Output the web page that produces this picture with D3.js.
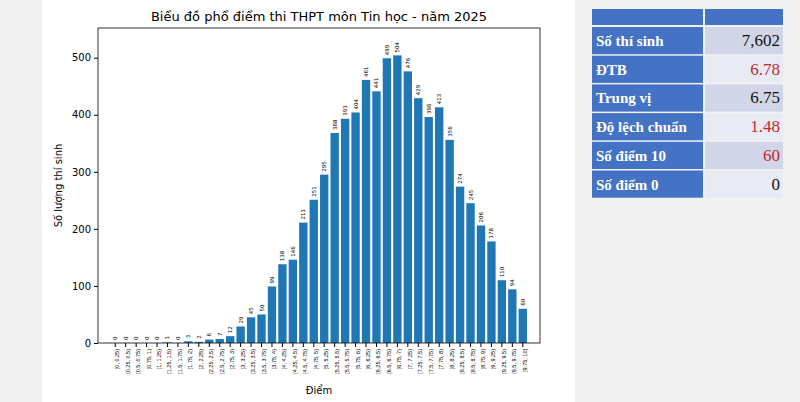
<!DOCTYPE html>
<html><head><meta charset="utf-8">
<script src="https://cdn.jsdelivr.net/npm/d3@7"></script>
<style>body{margin:0;background:#f1f1f1;}svg{display:block;}</style>
</head><body>
<svg id="c" width="800" height="402"></svg>
<script>
// score bins and counts
var bins = [];
for (var i = 0; i < 40; i++) {
  var a = i * 0.25, b = a + 0.25;
  bins.push("[" + a + ", " + b + (i == 39 ? "]" : ")"));
}
var counts = [0,0,0,0,0,1,0,3,2,6,7,12,29,45,50,99,138,146,211,251,295,368,393,404,461,441,499,504,476,429,396,413,356,274,245,206,178,110,94,60];
var yTicks = [0,100,200,300,400,500];
var statLabels = ["Số thí sinh","ĐTB","Trung vị","Độ lệch chuẩn","Số điểm 10","Số điểm 0"];
var statValues = ["7,602","6.78","6.75","1.48","60","0"];
var statRed = [false,true,false,true,true,false];

var svg = d3.select("#c");
svg.append("rect").attr("x",42).attr("y",0).attr("width",533).attr("height",402).attr("fill","#fff");

var pL = 98, pR = 540, pT = 28, pB = 343;
var x = d3.scaleBand().domain(bins).range([pL + 12, pR - 12]).paddingInner(0.2).paddingOuter(0.1);
var y = d3.scaleLinear().domain([0, 552]).range([pB, pT]);

svg.append("text").attr("x",(pL+pR)/2).attr("y",21).attr("text-anchor","middle")
  .attr("font-family","DejaVu Sans").attr("font-size",13).text("Biểu đồ phổ điểm thi THPT môn Tin học - năm 2025");

svg.selectAll(".bar").data(counts).enter().append("rect")
  .attr("x",function(d,i){return x(bins[i]);}).attr("width",x.bandwidth())
  .attr("y",function(d){return y(d);}).attr("height",function(d){return pB - y(d);})
  .attr("fill","#1f77b4");

svg.selectAll(".lbl").data(counts).enter().append("text")
  .attr("transform",function(d,i){return "translate(" + (x(bins[i]) + x.bandwidth()/2 + 2) + "," + (y(d) - 3) + ") rotate(-90)";})
  .attr("font-family","DejaVu Sans").attr("font-size",5.5).text(function(d){return d;});

var yAxis = svg.append("g").attr("transform","translate(" + pL + ",0)").call(d3.axisLeft(y).tickValues(yTicks).tickSize(4));
var xAxis = svg.append("g").attr("transform","translate(0," + pB + ")").call(d3.axisBottom(x).tickSize(4));
xAxis.selectAll("text").attr("font-size",5.5).attr("text-anchor","end")
  .attr("transform","rotate(-90)").attr("dx","-6").attr("dy","-3");
yAxis.selectAll("text").attr("font-size",10).attr("font-family","DejaVu Sans");
svg.selectAll(".domain").remove();
svg.append("rect").attr("x",pL).attr("y",pT).attr("width",pR-pL).attr("height",pB-pT)
  .attr("fill","none").attr("stroke","#000").attr("stroke-width",0.8);

svg.append("text").attr("x",(pL+pR)/2).attr("y",394).attr("text-anchor","middle")
  .attr("font-family","DejaVu Sans").attr("font-size",10).text("Điểm");
svg.append("text").attr("transform","translate(62," + ((pT+pB)/2) + ") rotate(-90)").attr("text-anchor","middle")
  .attr("font-family","DejaVu Sans").attr("font-size",10).text("Số lượng thí sinh");

// stats table
var tx = 592, lw = 111, vw = 78, rh = 28.7, ty = 27;
svg.append("rect").attr("x",tx).attr("y",9).attr("width",lw).attr("height",16).attr("fill","#4472c4");
svg.append("rect").attr("x",tx+lw+2).attr("y",9).attr("width",vw).attr("height",16).attr("fill","#4472c4");
statLabels.forEach(function(s,i){
  var ry = ty + i*rh;
  svg.append("rect").attr("x",tx).attr("y",ry).attr("width",lw).attr("height",rh-1.5).attr("fill","#4472c4");
  svg.append("rect").attr("x",tx+lw+2).attr("y",ry).attr("width",vw).attr("height",rh-1.5).attr("fill",i%2==0?"#d0d6e8":"#e9ebf4");
  svg.append("text").attr("x",tx+4).attr("y",ry+19).attr("fill","#fff").attr("font-weight","bold")
    .attr("font-family","Liberation Serif").attr("font-size",15).text(s);
  svg.append("text").attr("x",tx+lw+vw-1).attr("y",ry+19).attr("text-anchor","end")
    .attr("fill",statRed[i]?"#c0282d":"#111").attr("font-family","Liberation Serif").attr("font-size",17).text(statValues[i]);
});
</script>
</body></html>
